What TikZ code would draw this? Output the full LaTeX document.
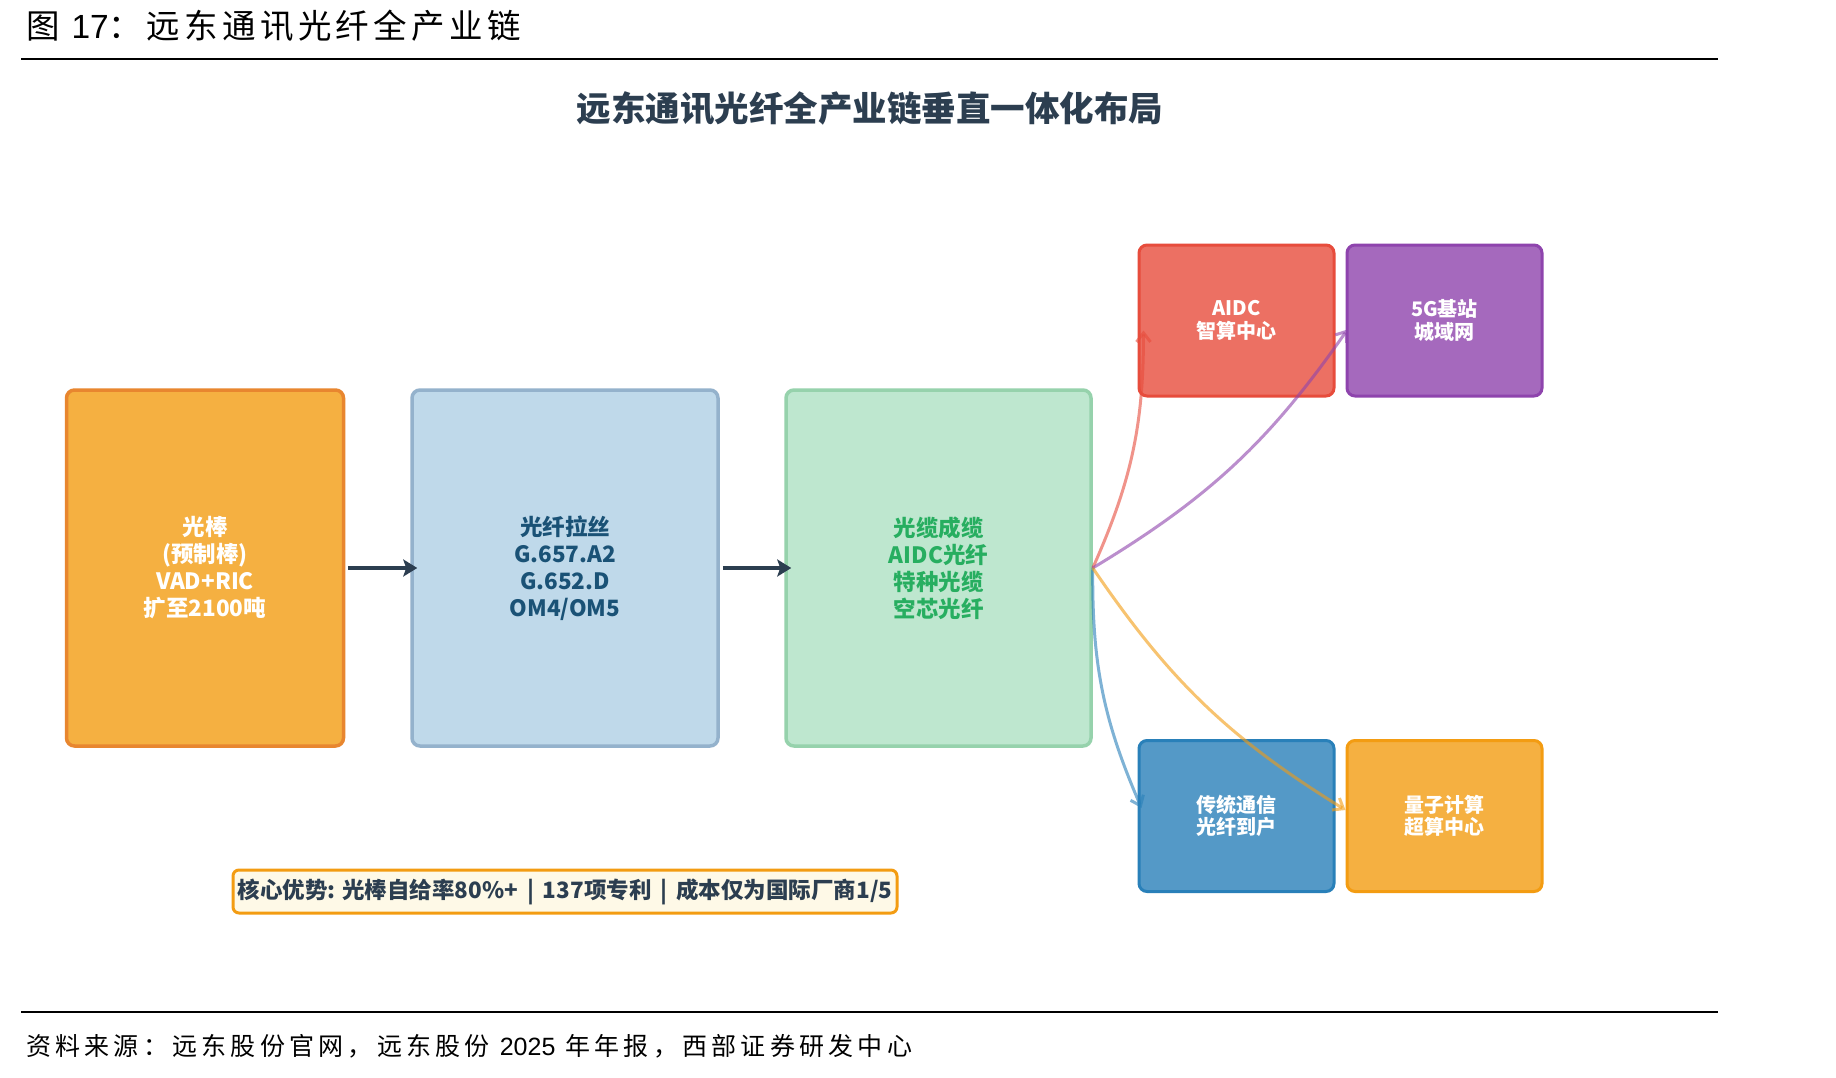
\documentclass[tikz,border=0pt]{standalone}
\usepackage{fontspec}
\setmainfont{Noto Sans CJK SC}
\newfontfamily\arialf{Liberation Sans}
\usetikzlibrary{arrows.meta,calc}
\definecolor{navy}{HTML}{2C3E50}
\definecolor{f1}{HTML}{F5B041}\definecolor{e1}{HTML}{E8862F}
\definecolor{f2}{HTML}{BFD9EA}\definecolor{e2}{HTML}{94B2CC}\definecolor{t2}{HTML}{1A5276}
\definecolor{f3}{HTML}{BEE7CF}\definecolor{e3}{HTML}{96D2AC}\definecolor{t3}{HTML}{27AE60}
\definecolor{redf}{HTML}{EC7063}\definecolor{rede}{HTML}{E74C3C}
\definecolor{purf}{HTML}{A569BD}\definecolor{pure}{HTML}{8E44AD}
\definecolor{bluf}{HTML}{5499C7}\definecolor{blue2}{HTML}{2980B9}
\definecolor{oraf}{HTML}{F5B041}\definecolor{orae}{HTML}{F39C12}
\definecolor{notef}{HTML}{FEF9E7}
\tikzset{
  bigbox/.style={rounded corners=8pt, line width=3.5pt, align=center, inner sep=0pt,
    minimum height=356pt, font=\fontsize{22.5}{27}\selectfont\bfseries},
  smallbox/.style={rounded corners=8pt, line width=3pt, align=center, inner sep=0pt,
    minimum width=195pt, minimum height=151pt, text=white,
    font=\fontsize{20}{22.5}\selectfont\bfseries},
  flow/.style={navy, line width=4.5pt, -{Stealth[length=14pt,width=17pt,inset=3pt]}, shorten <=3pt, shorten >=-7pt},
  fan/.style={line width=3pt, opacity=0.6, -{Straight Barb[length=9pt,width=14pt]}, bend right=12},
}
\begin{document}
\begin{tikzpicture}[x=1pt,y=1pt]
\fill[white] (0,0) rectangle (1836,-1078);
\useasboundingbox (0,0) rectangle (1836,-1078);

\node[anchor=west, inner sep=0pt, font=\fontsize{33.5}{36}\selectfont\addfontfeature{LetterSpace=13}] (title) at (26,-26) {图 {\arialf 17}：远东通讯光纤全产业链};
\draw[line width=2pt] (21,-59) -- (1718,-59);

\node[font=\fontsize{34.5}{40}\selectfont\bfseries, text=navy] (sub) at (870,-109) {远东通讯光纤全产业链垂直一体化布局};

\node[bigbox, minimum width=277pt, fill=f1, draw=e1, text=white] (b1) at (205,-568) {光棒\\(预制棒)\\VAD+RIC\\扩至2100吨};
\node[bigbox, minimum width=306pt, fill=f2, draw=e2, text=t2] (b2) at (565,-568) {光纤拉丝\\G.657.A2\\G.652.D\\OM4/OM5};
\node[bigbox, minimum width=305pt, fill=f3, draw=e3, text=t3] (b3) at (938.5,-568) {光缆成缆\\AIDC光纤\\特种光缆\\空芯光纤};

\node[smallbox, fill=redf, draw=rede] (red) at (1236.5,-320.5) {AIDC\\智算中心};
\node[smallbox, fill=purf, draw=pure] (pur) at (1444.5,-320.5) {5G基站\\城域网};
\node[smallbox, fill=bluf, draw=blue2] (blu) at (1236.5,-816) {传统通信\\光纤到户};
\node[smallbox, fill=oraf, draw=orae] (ora) at (1444.5,-816) {量子计算\\超算中心};

\draw[flow] (b1.east) -- (b2.west);
\draw[flow] (b2.east) -- (b3.west);

\coordinate (redend) at ($(red.west)+(6,-10)$);
\coordinate (purend) at ($(pur.west)+(2,-9)$);
\coordinate (bluend) at ($(blu.west)+(4,8)$);
\coordinate (oraend) at ($(ora.west)+(0,6)$);
\draw[fan, draw=rede] (b3.east) to (redend);
\draw[fan, draw=pure] (b3.east) to (purend);
\draw[fan, draw=blue2] (b3.east) to (bluend);
\draw[fan, draw=orae] (b3.east) to (oraend);

\node[rounded corners=6pt, line width=3pt, draw=orae, fill=notef, text=navy, minimum width=664pt, minimum height=43pt, inner sep=0pt, font=\fontsize{22.5}{24}\selectfont\bfseries] (note) at (565,-891.5) {核心优势: 光棒自给率80\%+ \,|\, 137项专利 \,|\, 成本仅为国际厂商1/5};

\draw[line width=2pt] (21,-1012) -- (1718,-1012);
\node[anchor=west, inner sep=0pt, font=\fontsize{25}{28}\selectfont\addfontfeature{LetterSpace=17}] (src) at (26,-1046) {资料来源：远东股份官网，远东股份 {\arialf 2025} 年年报，西部证券研发中心};
\end{tikzpicture}
\end{document}
